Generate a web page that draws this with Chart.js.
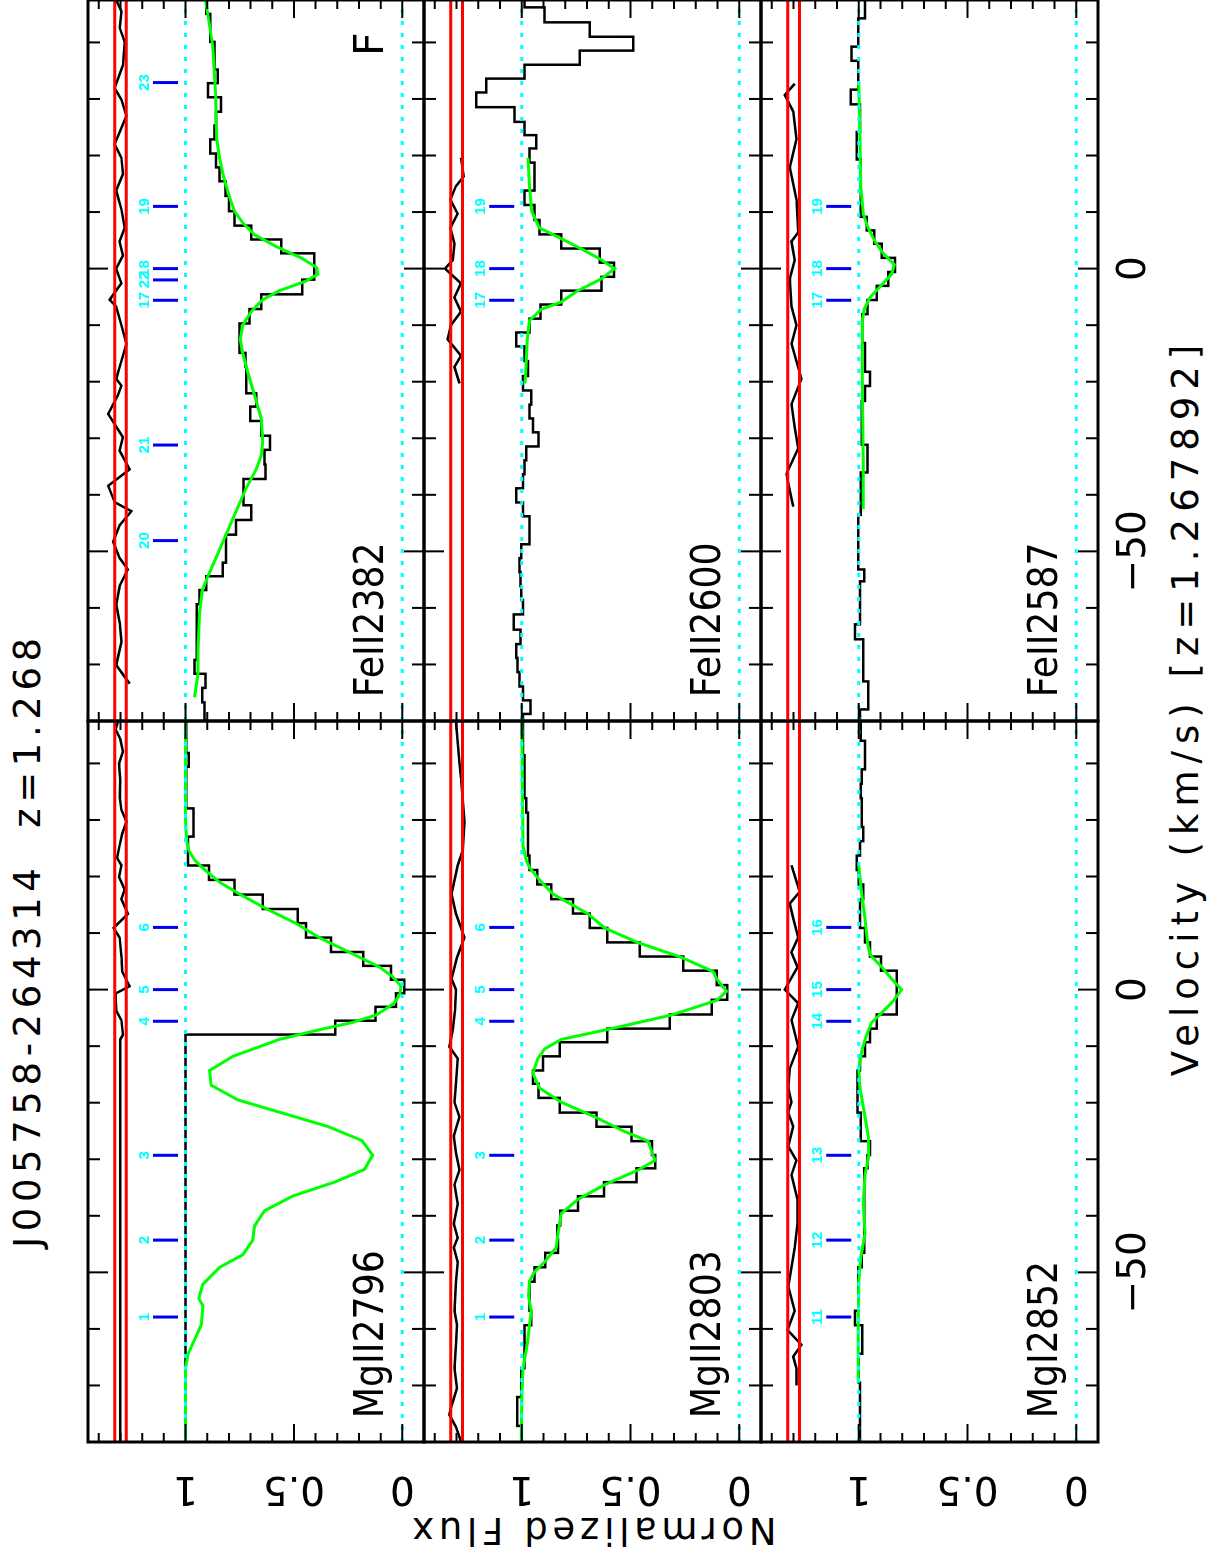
<!DOCTYPE html>
<html>
<head>
<meta charset="utf-8">
<title>J005758-264314 z=1.268</title>
<script src="https://cdn.jsdelivr.net/npm/chart.js@4.4.1/dist/chart.umd.min.js"></script>
<style>
  html, body { margin: 0; padding: 0; background: #fff; }
  body { width: 1228px; height: 1556px; overflow: hidden; position: relative; }
  /* the figure is laid out in landscape and turned a quarter turn, like the original plot */
  #fig { position: absolute; left: 0; top: 0; width: 1556px; height: 1228px;
         transform-origin: 0 0; transform: translate(0, 1556px) rotate(-90deg); }
  #fig canvas { position: absolute; }
  .txt { position: absolute; font-family: "DejaVu Sans", sans-serif; font-size: 37px;
         line-height: 1; white-space: pre; color: #000; transform: translate(-50%, -50%); }
</style>
</head>
<body>
<div id="fig">
  <div class="txt" style="left:616px; top:27px; letter-spacing:5.6px">J005758-264314  z=1.268</div>
  <div class="txt" style="left:849px; top:1185px; letter-spacing:7px">Velocity (km/s) [z=1.267892]</div>
  <div class="txt" style="left:26px; top:592px; letter-spacing:4.7px; transform: translate(-50%, -50%) rotate(-90deg)">Normalized Flux</div>
</div>
<script>
// axes
const VMIN = -80, VMAX = 47.5
const FMIN = -0.1, FMAX = 1.45
const VEL_TICKS = [-70, -60, -50, -40, -30, -20, -10, 0, 10, 20, 30, 40]
const VEL_MAJOR = [-50, 0]
const VEL_LABELS = [-50, 0]
const FLUX_TICKS = [0, 0.1, 0.2, 0.3, 0.4, 0.5, 0.6, 0.7, 0.8, 0.9, 1, 1.1, 1.2, 1.3, 1.4]
const FLUX_MAJOR = [0, 0.5, 1]
const FLUX_LABELS = [0, 0.5, 1]
const RED_LEVELS = [1.273, 1.327]
const CYAN_LEVELS = [0, 1]
const MARK_LO = 1.035, MARK_HI = 1.15, MARK_TEXT = 1.17
const LABEL_V = -75.8, LABEL_F = 0.09, FLAG_V = 37.6

// component velocities and ids
const MG_COMP_V = [-57.9, -44.3, -29.3, -5.6, 0.0, 11.0]
const MGII_IDS = ["1", "2", "3", "4", "5", "6"]
const MGI_IDS = ["11", "12", "13", "14", "15", "16"]
const FE2382_COMP_V = [-5.6, 0.0, 11.0, -48.1, -31.2, -2.0, 32.9]
const FE2382_IDS = ["17", "18", "19", "20", "21", "22", "23"]
const FE_COMP_V = [-5.6, 0.0, 11.0]
const FE_IDS = ["17", "18", "19"]

// MgII 2796
const MG2796_HIST_V = [48.0, 45.6, 43.1, 40.6, 38.2, 35.8, 33.3, 30.8, 28.3, 25.8, 23.2, 20.7, 18.1, 15.5, 13.0, 10.5, 7.9, 5.4, 3.0, 0.5, -1.8, -4.3, -6.7, -9.2, -81.0]
const MG2796_HIST_F = [0.997, 0.997, 0.997, 0.985, 0.997, 0.997, 0.997, 0.963, 0.963, 0.989, 0.989, 0.892, 0.774, 0.644, 0.482, 0.444, 0.329, 0.180, 0.052, -0.009, 0.029, 0.124, 0.309, 1.0, 1.0]
const MG2796_MODEL_V = [47.5, 30.0, 26.3, 24.6, 22.9, 21.2, 19.0, 16.9, 14.3, 11.7, 9.2, 6.6, 4.0, 2.3, 0.6, -0.7, -2.4, -4.5, -5.8, -7.1, -8.8, -11.8, -14.3, -16.9, -19.5, -24.2, -26.7, -29.3, -31.8, -34.0, -36.5, -39.1, -41.8, -44.3, -46.9, -49.1, -52.1, -54.6, -55.9, -59.3, -61.9, -64.5, -67.0, -80.0]
const MG2796_MODEL_F = [1.0, 1.0, 0.994, 0.985, 0.958, 0.912, 0.843, 0.751, 0.628, 0.490, 0.383, 0.244, 0.106, 0.045, 0.006, 0.011, 0.037, 0.121, 0.229, 0.383, 0.567, 0.782, 0.889, 0.882, 0.759, 0.344, 0.186, 0.137, 0.175, 0.309, 0.505, 0.636, 0.682, 0.690, 0.736, 0.843, 0.920, 0.939, 0.920, 0.928, 0.958, 0.989, 1.0, 1.0]
const MG2796_RES_V = [47.3, 46.0, 44.3, 42.1, 40.0, 37.0, 34.0, 31.8, 29.7, 27.6, 25.5, 23.3, 22.0, 19.9, 17.7, 16.0, 13.4, 10.9, 9.2, 5.7, 3.2, 0.6, -0.7, -3.7, -5.4, -8.0, -8.8, -80.0]
const MG2796_RES_F = [1.312, 1.323, 1.301, 1.289, 1.307, 1.301, 1.304, 1.296, 1.273, 1.292, 1.304, 1.316, 1.296, 1.307, 1.281, 1.296, 1.266, 1.332, 1.304, 1.296, 1.292, 1.258, 1.323, 1.320, 1.296, 1.289, 1.301, 1.301]

// MgII 2803
const MG2803_HIST_V = [47.8, 45.3, 42.7, 40.2, 37.7, 35.1, 32.6, 30.0, 27.5, 25.0, 22.4, 19.9, 17.3, 14.7, 12.2, 9.6, 7.1, 4.6, 2.1, -0.5, -3.1, -5.7, -8.1, -10.5, -13.1, -15.5, -17.8, -20.5, -23.0, -25.5, -28.1, -30.4, -32.8, -35.3, -37.8, -40.4, -43.0, -45.3, -47.8, -50.4, -52.9, -55.5, -58.1, -60.6, -63.1, -65.7, -68.2, -70.8, -73.3, -75.9, -78.4, -81.0]
const MG2803_HIST_F = [0.995, 0.995, 0.995, 0.988, 0.988, 0.988, 0.980, 0.972, 0.972, 0.972, 0.965, 0.929, 0.865, 0.765, 0.688, 0.607, 0.458, 0.258, 0.104, 0.055, 0.127, 0.320, 0.607, 0.826, 0.903, 0.949, 0.923, 0.826, 0.657, 0.496, 0.401, 0.386, 0.473, 0.622, 0.742, 0.823, 0.837, 0.834, 0.892, 0.942, 0.965, 0.965, 0.957, 0.988, 0.988, 0.988, 1.003, 1.003, 1.021, 1.021, 1.0, 1.0]
const MG2803_MODEL_V = [47.5, 25.4, 22.9, 21.6, 19.4, 16.9, 13.4, 10.9, 8.3, 5.7, 3.2, 1.9, -0.3, -1.9, -4.5, -7.1, -8.8, -10.5, -12.2, -14.8, -17.4, -19.9, -22.5, -25.1, -26.8, -29.4, -30.2, -31.9, -34.5, -37.1, -39.6, -43.1, -45.6, -48.2, -49.9, -51.6, -54.2, -56.8, -59.3, -62.7, -67.0, -72.2, -80.0]
const MG2803_MODEL_F = [1.0, 0.995, 0.980, 0.965, 0.919, 0.857, 0.696, 0.619, 0.465, 0.266, 0.120, 0.104, 0.058, 0.104, 0.312, 0.611, 0.819, 0.896, 0.926, 0.949, 0.919, 0.819, 0.665, 0.527, 0.419, 0.396, 0.386, 0.465, 0.619, 0.742, 0.819, 0.834, 0.842, 0.896, 0.942, 0.965, 0.969, 0.957, 0.965, 0.975, 0.995, 1.0, 1.003]
const MG2803_RES_V = [47.3, 40.0, 37.4, 29.7, 24.6, 22.0, 16.9, 13.4, 9.2, 5.7, 1.9, 0.0, -3.7, -7.1, -10.1, -12.2, -16.5, -19.9, -22.5, -25.9, -28.9, -31.9, -34.5, -37.9, -41.4, -43.9, -45.6, -48.2, -51.6, -56.8, -59.3, -62.7, -67.0, -70.5, -73.9, -75.2, -77.3, -79.9]
const MG2803_RES_F = [1.303, 1.287, 1.280, 1.264, 1.272, 1.295, 1.323, 1.303, 1.264, 1.298, 1.323, 1.303, 1.307, 1.318, 1.333, 1.295, 1.303, 1.310, 1.287, 1.313, 1.303, 1.287, 1.310, 1.295, 1.313, 1.295, 1.313, 1.295, 1.303, 1.310, 1.298, 1.303, 1.310, 1.298, 1.326, 1.333, 1.303, 1.280]

// MgI 2852
const MG2852_HIST_V = [47.8, 45.3, 42.7, 40.2, 37.7, 35.1, 32.6, 30.0, 27.5, 25.0, 22.4, 19.9, 17.3, 14.7, 12.2, 9.6, 7.1, 4.6, 2.1, -0.5, -3.1, -5.7, -8.1, -10.5, -13.1, -15.5, -17.8, -20.5, -23.0, -25.5, -28.1, -30.4, -32.8, -35.3, -37.8, -40.4, -43.0, -45.3, -47.8, -50.4, -52.9, -55.5, -58.1, -60.6, -63.1, -65.7, -68.2, -70.8, -73.3, -75.9, -78.4, -81.0]
const MG2852_HIST_F = [0.991, 0.991, 0.972, 0.972, 0.987, 0.991, 0.987, 0.987, 0.980, 0.995, 1.010, 1.0, 0.980, 0.995, 0.995, 0.972, 0.949, 0.898, 0.826, 0.826, 0.826, 0.918, 0.949, 0.972, 0.995, 1.006, 1.006, 1.006, 0.991, 0.991, 0.949, 0.960, 0.975, 0.975, 0.975, 0.975, 0.975, 0.975, 0.987, 1.003, 1.003, 1.003, 1.018, 0.984, 0.984, 1.0, 1.0, 0.995, 0.995, 0.995, 0.995, 0.995]
const MG2852_MODEL_V = [22.0, 16.9, 12.6, 8.3, 6.2, 4.0, 1.9, 0.0, -2.0, -4.1, -5.8, -8.0, -10.5, -14.0, -17.4, -21.7, -25.9, -29.4, -32.8, -37.9, -43.1, -47.4, -51.6, -60.2, -69.6]
const MG2852_MODEL_F = [1.0, 0.987, 0.972, 0.960, 0.949, 0.895, 0.849, 0.803, 0.841, 0.895, 0.941, 0.964, 0.984, 1.0, 0.995, 0.975, 0.957, 0.954, 0.972, 0.980, 0.972, 0.991, 1.0, 1.003, 1.003]
const MG2852_RES_V = [22.0, 17.3, 15.2, 12.6, 9.2, 6.6, 4.0, 0.0, -2.4, -5.4, -10.1, -14.0, -17.4, -19.9, -21.7, -24.2, -27.7, -30.2, -32.8, -37.1, -41.4, -45.6, -49.1, -52.5, -56.8, -60.2, -62.8, -64.9, -67.0, -70.0]
const MG2852_RES_F = [1.310, 1.272, 1.318, 1.302, 1.279, 1.310, 1.282, 1.341, 1.279, 1.310, 1.279, 1.318, 1.325, 1.310, 1.325, 1.302, 1.325, 1.287, 1.310, 1.282, 1.282, 1.295, 1.310, 1.325, 1.295, 1.328, 1.264, 1.302, 1.287, 1.287]

// FeII 2382
const FE2382_HIST_V = [48.7, 46.3, 43.8, 41.3, 38.9, 36.4, 34.0, 31.6, 29.0, 26.5, 24.1, 21.6, 19.1, 16.7, 14.2, 11.5, 8.8, 6.4, 3.9, 1.5, -0.7, -3.2, -5.9, -8.4, -11.0, -13.6, -16.2, -18.6, -20.9, -23.2, -25.6, -28.3, -30.8, -33.3, -36.0, -38.4, -40.6, -43.1, -45.8, -48.3, -50.8, -53.2, -55.6, -58.1, -60.6, -63.1, -65.6, -68.0, -70.4, -72.9, -75.4, -78.0, -80.5]
const FE2382_HIST_F = [0.905, 0.905, 0.886, 0.886, 0.866, 0.866, 0.851, 0.897, 0.836, 0.859, 0.866, 0.886, 0.859, 0.843, 0.816, 0.800, 0.774, 0.697, 0.559, 0.406, 0.406, 0.462, 0.651, 0.705, 0.751, 0.751, 0.724, 0.720, 0.720, 0.674, 0.702, 0.651, 0.610, 0.636, 0.631, 0.733, 0.733, 0.697, 0.767, 0.813, 0.813, 0.828, 0.905, 0.936, 0.948, 0.948, 0.948, 0.948, 0.959, 0.908, 0.923, 0.912, 0.912]
const FE2382_MODEL_V = [47.5, 39.3, 31.1, 22.9, 19.6, 16.3, 13.0, 10.1, 8.1, 6.0, 3.9, 1.9, 0.2, -1.0, -2.2, -3.9, -5.5, -7.6, -10.0, -12.5, -15.0, -18.3, -22.4, -26.5, -30.6, -33.1, -35.5, -38.8, -42.9, -47.0, -51.1, -54.4, -56.9, -61.0, -67.6, -71.7, -75.8]
const FE2382_MODEL_F = [0.908, 0.874, 0.862, 0.856, 0.843, 0.825, 0.800, 0.774, 0.736, 0.682, 0.582, 0.467, 0.395, 0.390, 0.444, 0.567, 0.644, 0.697, 0.736, 0.748, 0.736, 0.713, 0.682, 0.651, 0.644, 0.651, 0.674, 0.720, 0.767, 0.813, 0.859, 0.897, 0.923, 0.936, 0.943, 0.943, 0.959]
const FE2382_RES_V = [47.5, 45.5, 42.6, 40.1, 36.0, 31.9, 29.9, 27.0, 22.0, 19.6, 16.7, 13.8, 10.5, 7.2, 4.8, 2.3, 0.0, -2.6, -5.5, -6.7, -10.0, -13.3, -17.4, -19.5, -20.7, -22.4, -25.7, -29.8, -32.2, -35.5, -38.4, -41.3, -42.9, -45.4, -48.3, -51.2, -53.2, -56.1, -59.4, -62.7, -66.0, -70.1, -73.4]
const FE2382_RES_F = [1.320, 1.296, 1.304, 1.281, 1.289, 1.327, 1.296, 1.273, 1.327, 1.296, 1.289, 1.320, 1.296, 1.281, 1.304, 1.289, 1.320, 1.296, 1.350, 1.320, 1.296, 1.273, 1.304, 1.320, 1.296, 1.312, 1.357, 1.289, 1.304, 1.258, 1.357, 1.327, 1.250, 1.304, 1.334, 1.304, 1.266, 1.304, 1.320, 1.304, 1.296, 1.320, 1.258]

// FeII 2600
const FE2600_HIST_V = [47.5, 44.9, 42.2, 39.8, 37.3, 34.8, 32.4, 29.9, 27.2, 24.7, 22.5, 20.0, 17.5, 15.0, 12.6, 9.9, 7.3, 4.8, 2.3, -0.2, -2.7, -5.1, -7.6, -10.1, -12.5, -15.0, -17.7, -20.3, -22.8, -25.3, -27.7, -30.2, -32.7, -35.1, -37.6, -40.1, -42.6, -45.0, -47.5, -50.0, -52.4, -54.9, -57.4, -59.8, -62.5, -65.2, -67.6, -70.1, -72.6, -75.2, -77.5, -80.0]
const FE2600_HIST_F = [0.988, 0.896, 0.688, 0.488, 0.734, 0.988, 1.164, 1.210, 1.034, 0.988, 0.934, 0.965, 0.942, 0.942, 0.988, 0.942, 0.919, 0.819, 0.642, 0.576, 0.634, 0.819, 0.914, 0.965, 1.026, 0.988, 0.972, 0.995, 0.957, 0.965, 0.949, 0.923, 0.980, 0.988, 0.995, 1.026, 0.995, 0.965, 0.965, 1.003, 1.011, 1.006, 1.003, 0.995, 1.037, 1.006, 1.026, 1.020, 1.011, 0.995, 0.960, 0.995]
const FE2600_MODEL_V = [19.6, 14.6, 10.1, 7.2, 5.6, 3.5, 1.9, 0.0, -1.8, -3.9, -5.9, -7.2, -9.2, -12.5, -16.6, -20.3]
const FE2600_MODEL_F = [0.972, 0.965, 0.954, 0.919, 0.834, 0.727, 0.650, 0.573, 0.634, 0.742, 0.819, 0.911, 0.965, 0.975, 0.980, 0.985]
const FE2600_RES_V = [19.6, 16.3, 14.6, 12.2, 9.7, 7.2, 4.4, 1.5, 0.0, -2.6, -5.1, -7.6, -10.0, -12.5, -15.4, -17.4, -20.3]
const FE2600_RES_F = [1.280, 1.267, 1.303, 1.329, 1.295, 1.329, 1.310, 1.318, 1.353, 1.280, 1.310, 1.280, 1.326, 1.341, 1.280, 1.310, 1.287]

// FeII 2587
const FE2587_HIST_V = [48.0, 45.5, 43.0, 40.5, 38.0, 35.5, 33.0, 30.3, 27.8, 25.3, 23.0, 20.6, 18.0, 15.5, 13.0, 10.4, 7.9, 5.6, 3.2, 0.6, -1.8, -4.3, -6.8, -9.3, -11.8, -14.5, -17.0, -19.5, -22.0, -24.8, -27.4, -30.0, -32.3, -34.8, -37.3, -39.8, -42.3, -44.8, -47.3, -49.8, -52.3, -54.1, -56.5, -59.0, -61.5, -64.3, -66.8, -69.3, -71.8, -74.2, -76.7, -79.2, -81.7]
const FE2587_HIST_F = [0.972, 0.972, 1.003, 1.003, 1.034, 1.003, 1.003, 1.037, 0.995, 0.995, 1.010, 1.010, 0.991, 0.991, 0.991, 0.991, 0.964, 0.929, 0.895, 0.834, 0.865, 0.918, 0.960, 0.984, 0.984, 0.972, 0.972, 0.949, 0.972, 0.987, 0.987, 0.987, 0.960, 0.960, 0.991, 0.991, 0.991, 1.003, 1.003, 1.003, 1.003, 0.975, 0.995, 0.995, 0.995, 1.018, 0.980, 0.980, 0.980, 0.957, 0.957, 0.995, 0.995]
const FE2587_MODEL_V = [33.1, 22.9, 14.6, 9.7, 7.2, 4.8, 2.7, 0.7, -1.0, -2.6, -5.1, -7.2, -9.2, -18.3, -34.7, -42.5]
const FE2587_MODEL_F = [1.0, 0.995, 0.991, 0.980, 0.957, 0.926, 0.888, 0.837, 0.849, 0.888, 0.949, 0.975, 0.984, 0.984, 0.980, 0.980]
const FE2587_RES_V = [32.7, 30.7, 27.8, 22.9, 17.9, 12.2, 6.4, 4.8, 1.5, -1.8, -6.7, -10.0, -13.3, -19.5, -24.0, -28.1, -31.8, -36.3, -38.0, -42.1]
const FE2587_RES_F = [1.295, 1.341, 1.302, 1.287, 1.318, 1.287, 1.279, 1.310, 1.295, 1.318, 1.310, 1.287, 1.310, 1.264, 1.310, 1.295, 1.279, 1.333, 1.325, 1.302]

// layout in the landscape frame (before the quarter turn)
const COL_U = [114, 835]
const COL_W = 721
const ROW_V = [88, 424, 761]
const ROW_H = [336, 337, 337]
const Y_AXIS_W = 114
const X_AXIS_H = 100
const PAD = 20
const FONT = "'DejaVu Sans'"

const PANELS = [
  { name: "MgII2796", col: 0, row: 0, hv: MG2796_HIST_V, hf: MG2796_HIST_F, mv: MG2796_MODEL_V, mf: MG2796_MODEL_F, rv: MG2796_RES_V, rf: MG2796_RES_F, comps: MG_COMP_V, ids: MGII_IDS },
  { name: "MgII2803", col: 0, row: 1, hv: MG2803_HIST_V, hf: MG2803_HIST_F, mv: MG2803_MODEL_V, mf: MG2803_MODEL_F, rv: MG2803_RES_V, rf: MG2803_RES_F, comps: MG_COMP_V, ids: MGII_IDS },
  { name: "MgI2852", col: 0, row: 2, hv: MG2852_HIST_V, hf: MG2852_HIST_F, mv: MG2852_MODEL_V, mf: MG2852_MODEL_F, rv: MG2852_RES_V, rf: MG2852_RES_F, comps: MG_COMP_V, ids: MGI_IDS },
  { name: "FeII2382", col: 1, row: 0, hv: FE2382_HIST_V, hf: FE2382_HIST_F, mv: FE2382_MODEL_V, mf: FE2382_MODEL_F, rv: FE2382_RES_V, rf: FE2382_RES_F, comps: FE2382_COMP_V, ids: FE2382_IDS, flag: "F" },
  { name: "FeII2600", col: 1, row: 1, hv: FE2600_HIST_V, hf: FE2600_HIST_F, mv: FE2600_MODEL_V, mf: FE2600_MODEL_F, rv: FE2600_RES_V, rf: FE2600_RES_F, comps: FE_COMP_V, ids: FE_IDS },
  { name: "FeII2587", col: 1, row: 2, hv: FE2587_HIST_V, hf: FE2587_HIST_F, mv: FE2587_MODEL_V, mf: FE2587_MODEL_F, rv: FE2587_RES_V, rf: FE2587_RES_F, comps: FE_COMP_V, ids: FE_IDS },
]

function pts(xs, ys) {
  return xs.map((x, i) => ({ x: x, y: ys[i] }))
}

// horizontal levels across the whole panel, broken by a null point
function levels(ys) {
  const out = []
  ys.forEach(y => {
    out.push({ x: VMIN, y: y }, { x: VMAX, y: y }, { x: VMAX, y: null })
  })
  return out
}

function marks(vs) {
  const out = []
  vs.forEach(v => {
    out.push({ x: v, y: MARK_LO }, { x: v, y: MARK_HI }, { x: v, y: null })
  })
  return out
}

// frame, inward ticks, component ids and the transition name
function panelPlugin(p) {
  return {
    id: "panel",
    afterDatasetsDraw(chart) {
      const ctx = chart.ctx
      const a = chart.chartArea
      const xs = chart.scales.x
      const ys = chart.scales.y
      ctx.save()

      ctx.fillStyle = "#00ffff"
      ctx.font = "bold 15px 'Liberation Sans'"
      ctx.textAlign = "center"
      ctx.textBaseline = "alphabetic"
      p.comps.forEach((v, i) => {
        ctx.fillText(p.ids[i], xs.getPixelForValue(v), ys.getPixelForValue(MARK_TEXT))
      })

      ctx.fillStyle = "#000"
      ctx.font = "41px " + FONT
      ctx.textAlign = "left"
      const w = ctx.measureText(p.name).width * 0.885
      ctx.fillText(p.name, xs.getPixelForValue(LABEL_V), ys.getPixelForValue(LABEL_F), w)
      if (p.flag) {
        ctx.fillText(p.flag, xs.getPixelForValue(FLAG_V), ys.getPixelForValue(LABEL_F))
      }

      ctx.strokeStyle = "#000"
      ctx.lineWidth = 2
      ctx.beginPath()
      VEL_TICKS.forEach(v => {
        const px = xs.getPixelForValue(v)
        const len = VEL_MAJOR.includes(v) ? 20 : 12
        ctx.moveTo(px, a.top)
        ctx.lineTo(px, a.top + len)
        ctx.moveTo(px, a.bottom)
        ctx.lineTo(px, a.bottom - len)
      })
      FLUX_TICKS.forEach(f => {
        const py = ys.getPixelForValue(f)
        const len = FLUX_MAJOR.includes(f) ? 18 : 9
        ctx.moveTo(a.left, py)
        ctx.lineTo(a.left + len, py)
        ctx.moveTo(a.right, py)
        ctx.lineTo(a.right - len, py)
      })
      ctx.stroke()

      ctx.lineWidth = 3
      ctx.strokeRect(a.left, a.top, a.right - a.left, a.bottom - a.top)
      ctx.restore()
    },
  }
}

const fig = document.getElementById("fig")

PANELS.forEach(p => {
  const showY = p.col === 0
  const showX = p.row === 2
  const padL = showY ? Y_AXIS_W : PAD
  const padB = showX ? X_AXIS_H : PAD
  const h = ROW_H[p.row]

  const canvas = document.createElement("canvas")
  canvas.width = COL_W + padL + PAD
  canvas.height = h + PAD + padB
  canvas.style.left = COL_U[p.col] - padL + "px"
  canvas.style.top = ROW_V[p.row] - PAD + "px"
  fig.appendChild(canvas)

  new Chart(canvas.getContext("2d"), {
    type: "line",
    data: {
      datasets: [
        { data: marks(p.comps), borderColor: "#0000f0", borderWidth: 3 },
        { data: levels(CYAN_LEVELS), borderColor: "#00ffff", borderWidth: 3, borderDash: [4, 8] },
        { data: pts(p.mv, p.mf), borderColor: "#00ff00", borderWidth: 3 },
        { data: levels(RED_LEVELS), borderColor: "#ff0000", borderWidth: 3 },
        { data: pts(p.rv, p.rf), borderColor: "#000000", borderWidth: 2.5 },
        { data: pts(p.hv, p.hf), borderColor: "#000000", borderWidth: 2.5, stepped: "middle" },
      ],
    },
    options: {
      responsive: false,
      animation: false,
      devicePixelRatio: 1,
      events: [],
      layout: {
        padding: { left: showY ? 0 : PAD, right: PAD, top: PAD, bottom: showX ? 0 : PAD },
      },
      elements: {
        point: { radius: 0 },
        line: { tension: 0, fill: false },
      },
      plugins: {
        legend: { display: false },
        tooltip: { enabled: false },
      },
      scales: {
        x: {
          type: "linear",
          min: VMIN,
          max: VMAX,
          display: showX,
          grid: { display: false, drawTicks: false },
          border: { display: false },
          afterBuildTicks: s => {
            s.ticks = VEL_LABELS.map(v => ({ value: v }))
          },
          afterFit: s => {
            s.height = showX ? X_AXIS_H : 0
            s.paddingLeft = 0
            s.paddingRight = 0
          },
          ticks: {
            padding: 13,
            color: "#000",
            autoSkip: false,
            maxRotation: 0,
            font: { family: FONT, size: 39 },
            callback: v => (v < 0 ? "\u2212" + -v : String(v)),
          },
        },
        y: {
          type: "linear",
          min: FMIN,
          max: FMAX,
          display: showY,
          grid: { display: false, drawTicks: false },
          border: { display: false },
          afterBuildTicks: s => {
            s.ticks = FLUX_LABELS.map(v => ({ value: v }))
          },
          afterFit: s => {
            s.width = showY ? Y_AXIS_W : 0
            s.paddingTop = 0
            s.paddingBottom = 0
          },
          ticks: {
            padding: 14,
            color: "#000",
            autoSkip: false,
            crossAlign: "center",
            minRotation: 90,
            maxRotation: 90,
            font: { family: FONT, size: 39 },
            callback: v => String(v),
          },
        },
      },
    },
    plugins: [panelPlugin(p)],
  })
})
</script>
</body>
</html>
